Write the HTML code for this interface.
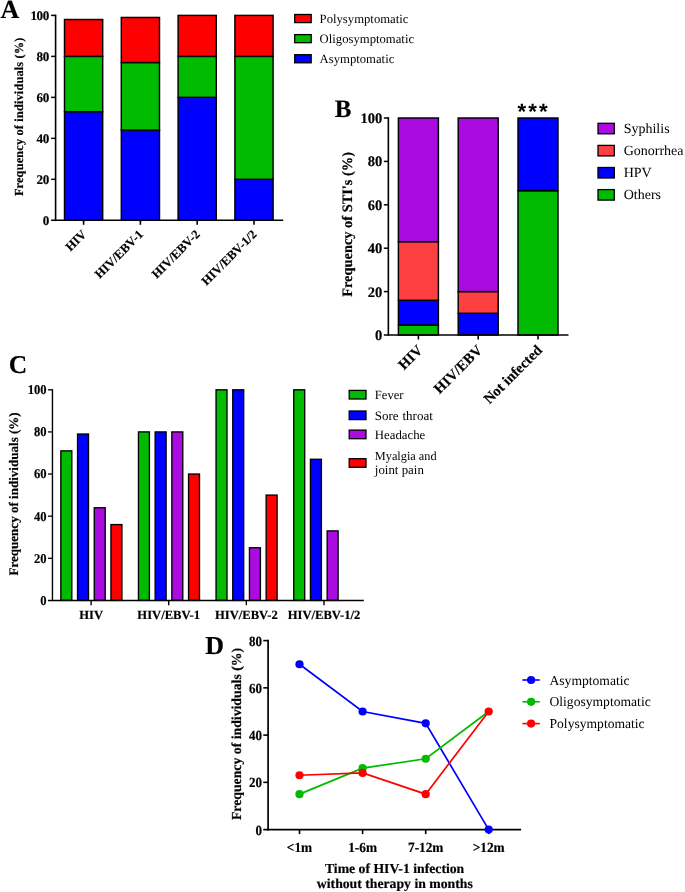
<!DOCTYPE html>
<html lang="en">
<head>
<meta charset="utf-8">
<title>Figure</title>
<style>
html,body{margin:0;padding:0;background:#fff;}
body{width:685px;height:892px;overflow:hidden;}
svg{display:block;}
svg text{font-family:'Liberation Serif', serif;fill:#000;text-rendering:geometricPrecision;}
svg text[font-weight="bold"]{stroke:#000;stroke-width:0.18px;stroke-linejoin:round;}
</style>
</head>
<body>
<svg width="685" height="892" viewBox="0 0 685 892">
<rect x="0" y="0" width="685" height="892" fill="#ffffff"/>
<text x="0.60" y="18.00" font-size="26" font-weight="bold" text-anchor="start">A</text>
<rect x="64.50" y="111.70" width="38.20" height="108.60" fill="#0000ff" stroke="#000" stroke-width="1.45"/>
<rect x="64.50" y="56.38" width="38.20" height="55.32" fill="#00bb00" stroke="#000" stroke-width="1.45"/>
<rect x="64.50" y="19.50" width="38.20" height="36.88" fill="#ff0000" stroke="#000" stroke-width="1.45"/>
<rect x="121.30" y="130.14" width="38.20" height="90.16" fill="#0000ff" stroke="#000" stroke-width="1.45"/>
<rect x="121.30" y="62.53" width="38.20" height="67.62" fill="#00bb00" stroke="#000" stroke-width="1.45"/>
<rect x="121.30" y="17.45" width="38.20" height="45.08" fill="#ff0000" stroke="#000" stroke-width="1.45"/>
<rect x="178.10" y="97.36" width="38.20" height="122.94" fill="#0000ff" stroke="#000" stroke-width="1.45"/>
<rect x="178.10" y="56.38" width="38.20" height="40.98" fill="#00bb00" stroke="#000" stroke-width="1.45"/>
<rect x="178.10" y="15.40" width="38.20" height="40.98" fill="#ff0000" stroke="#000" stroke-width="1.45"/>
<rect x="234.90" y="179.32" width="38.20" height="40.98" fill="#0000ff" stroke="#000" stroke-width="1.45"/>
<rect x="234.90" y="56.38" width="38.20" height="122.94" fill="#00bb00" stroke="#000" stroke-width="1.45"/>
<rect x="234.90" y="15.40" width="38.20" height="40.98" fill="#ff0000" stroke="#000" stroke-width="1.45"/>
<line x1="55.60" y1="14.60" x2="55.60" y2="221.10" stroke="#000" stroke-width="1.6" stroke-linecap="butt"/>
<line x1="51.10" y1="220.30" x2="283.20" y2="220.30" stroke="#000" stroke-width="1.5" stroke-linecap="butt"/>
<text x="48.90" y="224.50" font-size="13.1" font-weight="bold" text-anchor="end" letter-spacing="-0.4">0</text>
<line x1="51.10" y1="179.32" x2="55.60" y2="179.32" stroke="#000" stroke-width="1.5" stroke-linecap="butt"/>
<text x="48.90" y="183.52" font-size="13.1" font-weight="bold" text-anchor="end" letter-spacing="-0.4">20</text>
<line x1="51.10" y1="138.34" x2="55.60" y2="138.34" stroke="#000" stroke-width="1.5" stroke-linecap="butt"/>
<text x="48.90" y="142.54" font-size="13.1" font-weight="bold" text-anchor="end" letter-spacing="-0.4">40</text>
<line x1="51.10" y1="97.36" x2="55.60" y2="97.36" stroke="#000" stroke-width="1.5" stroke-linecap="butt"/>
<text x="48.90" y="101.56" font-size="13.1" font-weight="bold" text-anchor="end" letter-spacing="-0.4">60</text>
<line x1="51.10" y1="56.38" x2="55.60" y2="56.38" stroke="#000" stroke-width="1.5" stroke-linecap="butt"/>
<text x="48.90" y="60.58" font-size="13.1" font-weight="bold" text-anchor="end" letter-spacing="-0.4">80</text>
<line x1="51.10" y1="15.40" x2="55.60" y2="15.40" stroke="#000" stroke-width="1.5" stroke-linecap="butt"/>
<text x="48.90" y="19.60" font-size="13.1" font-weight="bold" text-anchor="end" letter-spacing="-0.4">100</text>
<line x1="83.60" y1="220.30" x2="83.60" y2="224.80" stroke="#000" stroke-width="1.6" stroke-linecap="butt"/>
<text transform="translate(87.10 235.00) rotate(-45)" font-size="12.5" font-weight="bold" text-anchor="end">HIV</text>
<line x1="140.40" y1="220.30" x2="140.40" y2="224.80" stroke="#000" stroke-width="1.6" stroke-linecap="butt"/>
<text transform="translate(143.90 235.00) rotate(-45)" font-size="12.5" font-weight="bold" text-anchor="end">HIV/EBV-1</text>
<line x1="197.20" y1="220.30" x2="197.20" y2="224.80" stroke="#000" stroke-width="1.6" stroke-linecap="butt"/>
<text transform="translate(200.70 235.00) rotate(-45)" font-size="12.5" font-weight="bold" text-anchor="end">HIV/EBV-2</text>
<line x1="254.00" y1="220.30" x2="254.00" y2="224.80" stroke="#000" stroke-width="1.6" stroke-linecap="butt"/>
<text transform="translate(257.50 235.00) rotate(-45)" font-size="12.5" font-weight="bold" text-anchor="end">HIV/EBV-1/2</text>
<text transform="translate(23.10 116.80) rotate(-90)" font-size="12.3" font-weight="bold" text-anchor="middle" letter-spacing="0.17">Frequency of individuals (%)</text>
<rect x="294.70" y="14.50" width="16.50" height="8.10" fill="#ff0000" stroke="#000" stroke-width="1.3"/>
<text x="319.60" y="22.70" font-size="12.7" font-weight="normal" text-anchor="start">Polysymptomatic</text>
<rect x="294.70" y="34.60" width="16.50" height="8.10" fill="#00bb00" stroke="#000" stroke-width="1.3"/>
<text x="319.60" y="42.80" font-size="12.7" font-weight="normal" text-anchor="start">Oligosymptomatic</text>
<rect x="294.70" y="54.70" width="16.50" height="8.10" fill="#0000ff" stroke="#000" stroke-width="1.3"/>
<text x="319.60" y="62.90" font-size="12.7" font-weight="normal" text-anchor="start">Asymptomatic</text>
<text x="334.80" y="117.40" font-size="25" font-weight="bold" text-anchor="start">B</text>
<rect x="398.40" y="325.02" width="40.00" height="9.98" fill="#00bb00" stroke="#000" stroke-width="1.45"/>
<rect x="398.40" y="300.28" width="40.00" height="24.74" fill="#0000ff" stroke="#000" stroke-width="1.45"/>
<rect x="398.40" y="241.69" width="40.00" height="58.59" fill="#ff4040" stroke="#000" stroke-width="1.45"/>
<rect x="398.40" y="118.00" width="40.00" height="123.69" fill="#aa0be0" stroke="#000" stroke-width="1.45"/>
<rect x="458.20" y="313.30" width="40.00" height="21.70" fill="#0000ff" stroke="#000" stroke-width="1.45"/>
<rect x="458.20" y="291.60" width="40.00" height="21.70" fill="#ff4040" stroke="#000" stroke-width="1.45"/>
<rect x="458.20" y="118.00" width="40.00" height="173.60" fill="#aa0be0" stroke="#000" stroke-width="1.45"/>
<rect x="518.00" y="190.69" width="40.00" height="144.31" fill="#00bb00" stroke="#000" stroke-width="1.45"/>
<rect x="518.00" y="118.00" width="40.00" height="72.69" fill="#0000ff" stroke="#000" stroke-width="1.45"/>
<line x1="388.35" y1="117.20" x2="388.35" y2="335.80" stroke="#000" stroke-width="1.6" stroke-linecap="butt"/>
<line x1="383.85" y1="335.00" x2="568.50" y2="335.00" stroke="#000" stroke-width="1.5" stroke-linecap="butt"/>
<text x="382.20" y="339.90" font-size="14.5" font-weight="bold" text-anchor="end">0</text>
<line x1="383.85" y1="291.60" x2="388.35" y2="291.60" stroke="#000" stroke-width="1.5" stroke-linecap="butt"/>
<text x="382.20" y="296.50" font-size="14.5" font-weight="bold" text-anchor="end">20</text>
<line x1="383.85" y1="248.20" x2="388.35" y2="248.20" stroke="#000" stroke-width="1.5" stroke-linecap="butt"/>
<text x="382.20" y="253.10" font-size="14.5" font-weight="bold" text-anchor="end">40</text>
<line x1="383.85" y1="204.80" x2="388.35" y2="204.80" stroke="#000" stroke-width="1.5" stroke-linecap="butt"/>
<text x="382.20" y="209.70" font-size="14.5" font-weight="bold" text-anchor="end">60</text>
<line x1="383.85" y1="161.40" x2="388.35" y2="161.40" stroke="#000" stroke-width="1.5" stroke-linecap="butt"/>
<text x="382.20" y="166.30" font-size="14.5" font-weight="bold" text-anchor="end">80</text>
<line x1="383.85" y1="118.00" x2="388.35" y2="118.00" stroke="#000" stroke-width="1.5" stroke-linecap="butt"/>
<text x="382.20" y="122.90" font-size="14.5" font-weight="bold" text-anchor="end">100</text>
<line x1="418.40" y1="335.00" x2="418.40" y2="339.50" stroke="#000" stroke-width="1.6" stroke-linecap="butt"/>
<text transform="translate(423.40 351.00) rotate(-45)" font-size="14.6" font-weight="bold" text-anchor="end">HIV</text>
<line x1="478.20" y1="335.00" x2="478.20" y2="339.50" stroke="#000" stroke-width="1.6" stroke-linecap="butt"/>
<text transform="translate(483.20 351.00) rotate(-45)" font-size="14.6" font-weight="bold" text-anchor="end">HIV/EBV</text>
<line x1="538.00" y1="335.00" x2="538.00" y2="339.50" stroke="#000" stroke-width="1.6" stroke-linecap="butt"/>
<text transform="translate(543.00 351.00) rotate(-45)" font-size="14.6" font-weight="bold" text-anchor="end">Not infected</text>
<text transform="translate(352.20 224.40) rotate(-90)" font-size="14.4" font-weight="bold" text-anchor="middle">Frequency of STI's (%)</text>
<text x="517.6" y="119.0" font-size="22.2" font-weight="700" font-family="'Liberation Sans', sans-serif" letter-spacing="2.05" style="font-family:'Liberation Sans', sans-serif;stroke:none">***</text>
<rect x="598.00" y="123.30" width="16.30" height="10.50" fill="#aa0be0" stroke="#000" stroke-width="1.3"/>
<text x="623.70" y="132.90" font-size="14.0" font-weight="normal" text-anchor="start">Syphilis</text>
<rect x="598.00" y="145.40" width="16.30" height="10.50" fill="#ff4040" stroke="#000" stroke-width="1.3"/>
<text x="623.70" y="155.00" font-size="14.0" font-weight="normal" text-anchor="start">Gonorrhea</text>
<rect x="598.00" y="167.50" width="16.30" height="10.50" fill="#0000ff" stroke="#000" stroke-width="1.3"/>
<text x="623.70" y="177.10" font-size="14.0" font-weight="normal" text-anchor="start">HPV</text>
<rect x="598.00" y="189.60" width="16.30" height="10.50" fill="#00bb00" stroke="#000" stroke-width="1.3"/>
<text x="623.70" y="199.20" font-size="14.0" font-weight="normal" text-anchor="start">Others</text>
<text x="8.80" y="373.40" font-size="25.5" font-weight="bold" text-anchor="start">C</text>
<rect x="60.85" y="450.87" width="10.95" height="149.53" fill="#00bb00" stroke="#000" stroke-width="1.35"/>
<rect x="77.55" y="434.03" width="10.95" height="166.37" fill="#0000ff" stroke="#000" stroke-width="1.35"/>
<rect x="94.25" y="507.74" width="10.95" height="92.66" fill="#aa0be0" stroke="#000" stroke-width="1.35"/>
<rect x="110.95" y="524.58" width="10.95" height="75.82" fill="#ff0000" stroke="#000" stroke-width="1.35"/>
<rect x="138.45" y="431.92" width="10.95" height="168.48" fill="#00bb00" stroke="#000" stroke-width="1.35"/>
<rect x="155.15" y="431.92" width="10.95" height="168.48" fill="#0000ff" stroke="#000" stroke-width="1.35"/>
<rect x="171.85" y="431.92" width="10.95" height="168.48" fill="#aa0be0" stroke="#000" stroke-width="1.35"/>
<rect x="188.55" y="474.04" width="10.95" height="126.36" fill="#ff0000" stroke="#000" stroke-width="1.35"/>
<rect x="216.05" y="389.80" width="10.95" height="210.60" fill="#00bb00" stroke="#000" stroke-width="1.35"/>
<rect x="232.75" y="389.80" width="10.95" height="210.60" fill="#0000ff" stroke="#000" stroke-width="1.35"/>
<rect x="249.45" y="547.75" width="10.95" height="52.65" fill="#aa0be0" stroke="#000" stroke-width="1.35"/>
<rect x="266.15" y="495.10" width="10.95" height="105.30" fill="#ff0000" stroke="#000" stroke-width="1.35"/>
<rect x="293.75" y="389.80" width="10.95" height="210.60" fill="#00bb00" stroke="#000" stroke-width="1.35"/>
<rect x="310.45" y="459.30" width="10.95" height="141.10" fill="#0000ff" stroke="#000" stroke-width="1.35"/>
<rect x="327.15" y="530.90" width="10.95" height="69.50" fill="#aa0be0" stroke="#000" stroke-width="1.35"/>
<line x1="52.45" y1="389.10" x2="52.45" y2="601.10" stroke="#000" stroke-width="1.4" stroke-linecap="butt"/>
<line x1="47.95" y1="600.40" x2="363.80" y2="600.40" stroke="#000" stroke-width="1.5" stroke-linecap="butt"/>
<text transform="translate(46.65 604.80) scale(0.94 1)" font-size="13.4" font-weight="bold" text-anchor="end">0</text>
<line x1="47.95" y1="558.28" x2="52.45" y2="558.28" stroke="#000" stroke-width="1.3" stroke-linecap="butt"/>
<text transform="translate(46.65 562.68) scale(0.94 1)" font-size="13.4" font-weight="bold" text-anchor="end">20</text>
<line x1="47.95" y1="516.16" x2="52.45" y2="516.16" stroke="#000" stroke-width="1.3" stroke-linecap="butt"/>
<text transform="translate(46.65 520.56) scale(0.94 1)" font-size="13.4" font-weight="bold" text-anchor="end">40</text>
<line x1="47.95" y1="474.04" x2="52.45" y2="474.04" stroke="#000" stroke-width="1.3" stroke-linecap="butt"/>
<text transform="translate(46.65 478.44) scale(0.94 1)" font-size="13.4" font-weight="bold" text-anchor="end">60</text>
<line x1="47.95" y1="431.92" x2="52.45" y2="431.92" stroke="#000" stroke-width="1.3" stroke-linecap="butt"/>
<text transform="translate(46.65 436.32) scale(0.94 1)" font-size="13.4" font-weight="bold" text-anchor="end">80</text>
<line x1="47.95" y1="389.80" x2="52.45" y2="389.80" stroke="#000" stroke-width="1.3" stroke-linecap="butt"/>
<text transform="translate(46.65 394.20) scale(0.94 1)" font-size="13.4" font-weight="bold" text-anchor="end">100</text>
<line x1="91.12" y1="600.40" x2="91.12" y2="605.20" stroke="#000" stroke-width="1.4" stroke-linecap="butt"/>
<text x="91.12" y="619.10" font-size="12.6" font-weight="bold" text-anchor="middle">HIV</text>
<line x1="168.72" y1="600.40" x2="168.72" y2="605.20" stroke="#000" stroke-width="1.4" stroke-linecap="butt"/>
<text x="168.72" y="619.10" font-size="12.6" font-weight="bold" text-anchor="middle">HIV/EBV-1</text>
<line x1="246.33" y1="600.40" x2="246.33" y2="605.20" stroke="#000" stroke-width="1.4" stroke-linecap="butt"/>
<text x="246.33" y="619.10" font-size="12.6" font-weight="bold" text-anchor="middle">HIV/EBV-2</text>
<line x1="324.02" y1="600.40" x2="324.02" y2="605.20" stroke="#000" stroke-width="1.4" stroke-linecap="butt"/>
<text x="324.02" y="619.10" font-size="12.6" font-weight="bold" text-anchor="middle">HIV/EBV-1/2</text>
<text transform="translate(18.20 493.90) rotate(-90)" font-size="13.05" font-weight="bold" text-anchor="middle">Frequency of individuals (%)</text>
<rect x="349.20" y="390.40" width="16.80" height="8.60" fill="#00bb00" stroke="#000" stroke-width="1.3"/>
<text x="374.80" y="399.00" font-size="12.6" font-weight="normal" text-anchor="start">Fever</text>
<rect x="349.20" y="411.00" width="16.80" height="8.60" fill="#0000ff" stroke="#000" stroke-width="1.3"/>
<text x="374.80" y="419.50" font-size="13.0" font-weight="normal" text-anchor="start" word-spacing="0.6">Sore throat</text>
<rect x="349.20" y="430.10" width="16.80" height="8.60" fill="#aa0be0" stroke="#000" stroke-width="1.3"/>
<text x="374.80" y="438.70" font-size="12.8" font-weight="normal" text-anchor="start">Headache</text>
<rect x="349.20" y="458.70" width="16.80" height="8.60" fill="#ff0000" stroke="#000" stroke-width="1.3"/>
<text x="374.80" y="459.70" font-size="12.3" font-weight="normal" text-anchor="start">Myalgia and</text>
<text x="374.80" y="474.40" font-size="12.9" font-weight="normal" text-anchor="start">joint pain</text>
<text x="205.30" y="653.60" font-size="26" font-weight="bold" text-anchor="start">D</text>
<line x1="268.10" y1="639.80" x2="268.10" y2="830.40" stroke="#000" stroke-width="1.7" stroke-linecap="butt"/>
<line x1="263.30" y1="829.60" x2="521.10" y2="829.60" stroke="#000" stroke-width="1.6" stroke-linecap="butt"/>
<text transform="translate(262.00 834.60) scale(0.93 1)" font-size="14" font-weight="bold" text-anchor="end">0</text>
<line x1="263.30" y1="782.35" x2="268.10" y2="782.35" stroke="#000" stroke-width="1.6" stroke-linecap="butt"/>
<text transform="translate(262.00 787.35) scale(0.93 1)" font-size="14" font-weight="bold" text-anchor="end">20</text>
<line x1="263.30" y1="735.10" x2="268.10" y2="735.10" stroke="#000" stroke-width="1.6" stroke-linecap="butt"/>
<text transform="translate(262.00 740.10) scale(0.93 1)" font-size="14" font-weight="bold" text-anchor="end">40</text>
<line x1="263.30" y1="687.85" x2="268.10" y2="687.85" stroke="#000" stroke-width="1.6" stroke-linecap="butt"/>
<text transform="translate(262.00 692.85) scale(0.93 1)" font-size="14" font-weight="bold" text-anchor="end">60</text>
<line x1="263.30" y1="640.60" x2="268.10" y2="640.60" stroke="#000" stroke-width="1.6" stroke-linecap="butt"/>
<text transform="translate(262.00 645.60) scale(0.93 1)" font-size="14" font-weight="bold" text-anchor="end">80</text>
<line x1="299.50" y1="829.60" x2="299.50" y2="834.10" stroke="#000" stroke-width="1.6" stroke-linecap="butt"/>
<text transform="translate(299.50 852.10) scale(0.95 1)" font-size="14" font-weight="bold" text-anchor="middle">&lt;1m</text>
<line x1="362.60" y1="829.60" x2="362.60" y2="834.10" stroke="#000" stroke-width="1.6" stroke-linecap="butt"/>
<text transform="translate(362.60 852.10) scale(0.95 1)" font-size="14" font-weight="bold" text-anchor="middle">1-6m</text>
<line x1="425.70" y1="829.60" x2="425.70" y2="834.10" stroke="#000" stroke-width="1.6" stroke-linecap="butt"/>
<text transform="translate(425.70 852.10) scale(0.95 1)" font-size="14" font-weight="bold" text-anchor="middle">7-12m</text>
<line x1="488.70" y1="829.60" x2="488.70" y2="834.10" stroke="#000" stroke-width="1.6" stroke-linecap="butt"/>
<text transform="translate(488.70 852.10) scale(0.95 1)" font-size="14" font-weight="bold" text-anchor="middle">&gt;12m</text>
<polyline points="299.50,664.23 362.60,711.48 425.70,723.29 488.70,829.60" fill="none" stroke="#0000ff" stroke-width="1.7"/>
<circle cx="299.50" cy="664.23" r="4.1" fill="#0000ff"/>
<circle cx="362.60" cy="711.48" r="4.1" fill="#0000ff"/>
<circle cx="425.70" cy="723.29" r="4.1" fill="#0000ff"/>
<circle cx="488.70" cy="829.60" r="4.1" fill="#0000ff"/>
<polyline points="299.50,794.16 362.60,768.18 425.70,758.73 488.70,711.48" fill="none" stroke="#00bb00" stroke-width="1.7"/>
<circle cx="299.50" cy="794.16" r="4.1" fill="#00bb00"/>
<circle cx="362.60" cy="768.18" r="4.1" fill="#00bb00"/>
<circle cx="425.70" cy="758.73" r="4.1" fill="#00bb00"/>
<circle cx="488.70" cy="711.48" r="3.2" fill="#00bb00"/>
<polyline points="299.50,775.26 362.60,772.90 425.70,794.16 488.70,711.48" fill="none" stroke="#ff0000" stroke-width="1.7"/>
<circle cx="299.50" cy="775.26" r="4.1" fill="#ff0000"/>
<circle cx="362.60" cy="772.90" r="4.1" fill="#ff0000"/>
<circle cx="425.70" cy="794.16" r="4.1" fill="#ff0000"/>
<circle cx="488.70" cy="711.48" r="4.1" fill="#ff0000"/>
<text transform="translate(240.90 734.00) rotate(-90)" font-size="13.78" font-weight="bold" text-anchor="middle">Frequency of individuals (%)</text>
<text x="394.60" y="872.90" font-size="13.73" font-weight="bold" text-anchor="middle">Time of HIV-1 infection</text>
<text x="394.80" y="888.30" font-size="13.73" font-weight="bold" text-anchor="middle">without therapy in months</text>
<line x1="522.40" y1="680.00" x2="539.80" y2="680.00" stroke="#0000ff" stroke-width="1.6" stroke-linecap="butt"/>
<circle cx="531.1" cy="680.00" r="4.1" fill="#0000ff"/>
<text x="549.50" y="684.60" font-size="13.6" font-weight="normal" text-anchor="start">Asymptomatic</text>
<line x1="522.40" y1="701.80" x2="539.80" y2="701.80" stroke="#00bb00" stroke-width="1.6" stroke-linecap="butt"/>
<circle cx="531.1" cy="701.80" r="4.1" fill="#00bb00"/>
<text x="549.50" y="706.40" font-size="13.6" font-weight="normal" text-anchor="start">Oligosymptomatic</text>
<line x1="522.40" y1="723.60" x2="539.80" y2="723.60" stroke="#ff0000" stroke-width="1.6" stroke-linecap="butt"/>
<circle cx="531.1" cy="723.60" r="4.1" fill="#ff0000"/>
<text x="549.50" y="728.20" font-size="13.6" font-weight="normal" text-anchor="start">Polysymptomatic</text>
</svg>
</body>
</html>
